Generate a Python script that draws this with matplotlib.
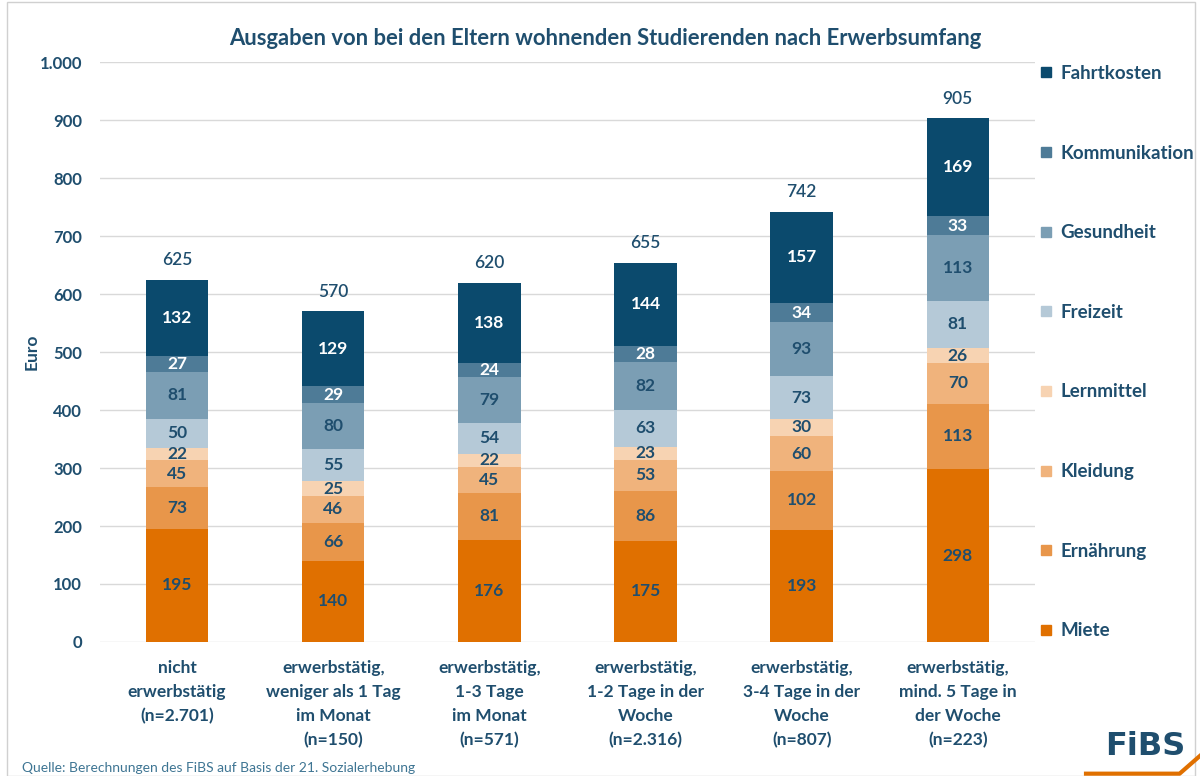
import matplotlib
matplotlib.use("Agg")
import matplotlib.pyplot as plt
from matplotlib.patches import Rectangle
from matplotlib.lines import Line2D
from matplotlib.ticker import FuncFormatter

plt.rcParams['font.family'] = ['Lato', 'DejaVu Sans']

categories = [
    "nicht\nerwerbstätig\n(n=2.701)",
    "erwerbstätig,\nweniger als 1 Tag\nim Monat\n(n=150)",
    "erwerbstätig,\n1-3 Tage\nim Monat\n(n=571)",
    "erwerbstätig,\n1-2 Tage in der\nWoche\n(n=2.316)",
    "erwerbstätig,\n3-4 Tage in der\nWoche\n(n=807)",
    "erwerbstätig,\nmind. 5 Tage in\nder Woche\n(n=223)",
]
series_names = ["Miete", "Ernährung", "Kleidung", "Lernmittel",
                "Freizeit", "Gesundheit", "Kommunikation", "Fahrtkosten"]
miete = [195, 140, 176, 175, 193, 298]
ernaehrung = [73, 66, 81, 86, 102, 113]
kleidung = [45, 46, 45, 53, 60, 70]
lernmittel = [22, 25, 22, 23, 30, 26]
freizeit = [50, 55, 54, 63, 73, 81]
gesundheit = [81, 80, 79, 82, 93, 113]
kommunikation = [27, 29, 24, 28, 34, 33]
fahrtkosten = [132, 129, 138, 144, 157, 169]
totals = [625, 570, 620, 655, 742, 905]

series = [miete, ernaehrung, kleidung, lernmittel, freizeit,
          gesundheit, kommunikation, fahrtkosten]
colors = ["#E07000", "#E8964A", "#F0B37C", "#F7D3B2",
          "#B5C9D7", "#7B9EB4", "#4E7B97", "#0B4A6D"]
label_colors = ["#1F4E6E"] * 6 + ["white", "white"]
text_col = "#1F4E6E"

fig = plt.figure(figsize=(12, 7.76), dpi=100)
ax = fig.add_axes([0.0833, 0.1727, 0.7792, 0.7473])

x = list(range(len(categories)))
bottom = [0] * len(x)
for name, vals, col, lc in zip(series_names, series, colors, label_colors):
    ax.bar(x, vals, bottom=bottom, width=0.4, color=col, zorder=3, label=name)
    for xi, v, b in zip(x, vals, bottom):
        ax.text(xi, b + v / 2, str(v), ha='center', va='center', color=lc,
                fontsize=12.5, fontweight='bold', zorder=4)
    bottom = [b + v for b, v in zip(bottom, vals)]

for xi, t, b in zip(x, totals, bottom):
    ax.text(xi, b + 20, str(t), ha='center', va='bottom', color=text_col,
            fontsize=12.5, fontweight='semibold')

ax.set_xlim(-0.494, 5.494)
ax.set_ylim(0, 1000)
ax.set_yticks(range(0, 1001, 100))
ax.yaxis.set_major_formatter(FuncFormatter(lambda v, p: f"{int(v):,}".replace(",", ".")))
ax.grid(axis='y', color='#D9D9D9', linewidth=1, zorder=0)
for s in ax.spines.values():
    s.set_visible(False)
ax.tick_params(axis='both', length=0, labelcolor=text_col, labelsize=12)
ax.tick_params(axis='y', pad=13)
for lab in ax.get_yticklabels():
    lab.set_fontweight('bold')
ax.set_xticks(x)
ax.set_xticklabels(categories, fontweight='bold', fontsize=12.5, linespacing=1.62)
ax.tick_params(axis='x', pad=13)
ax.set_ylabel("Euro", color=text_col, fontsize=12.5, fontweight='bold', labelpad=0)

leg_handles = [Line2D([0], [0], marker='s', color='none', markerfacecolor=c,
                      markeredgecolor=c, markersize=7.5) for c in colors][::-1]
leg = fig.legend(leg_handles, series_names[::-1], loc='upper left',
                 bbox_to_anchor=(0.853, 0.938), frameon=False, fontsize=13.5,
                 labelspacing=3.34, handlelength=0.6, handletextpad=0.45)
for t in leg.get_texts():
    t.set_color(text_col)
    t.set_fontweight('bold')

fig.text(0.504, 0.951, "Ausgaben von bei den Eltern wohnenden Studierenden nach Erwerbsumfang",
         ha='center', va='center', color=text_col, fontsize=15.85, fontweight='bold')

fig.text(0.018, 0.003, "Quelle: Berechnungen des FiBS auf Basis der 21. Sozialerhebung",
         ha='left', va='bottom', color="#3E7593", fontsize=10)

fig.text(0.954, 0.038, "FiBS", ha='center', va='center', color="#1F4E6E",
         fontsize=23, fontweight='bold', family='DejaVu Sans')
fig.add_artist(Line2D([0.905, 0.983, 1.0], [0.003, 0.003, 0.026],
                      transform=fig.transFigure, color="#E07000", linewidth=3))

fig.add_artist(Rectangle((0.006, 0.0), 0.99, 0.998, transform=fig.transFigure,
                         fill=False, edgecolor='#D0D0D0', linewidth=1))

fig.savefig("out.png", dpi=100)
